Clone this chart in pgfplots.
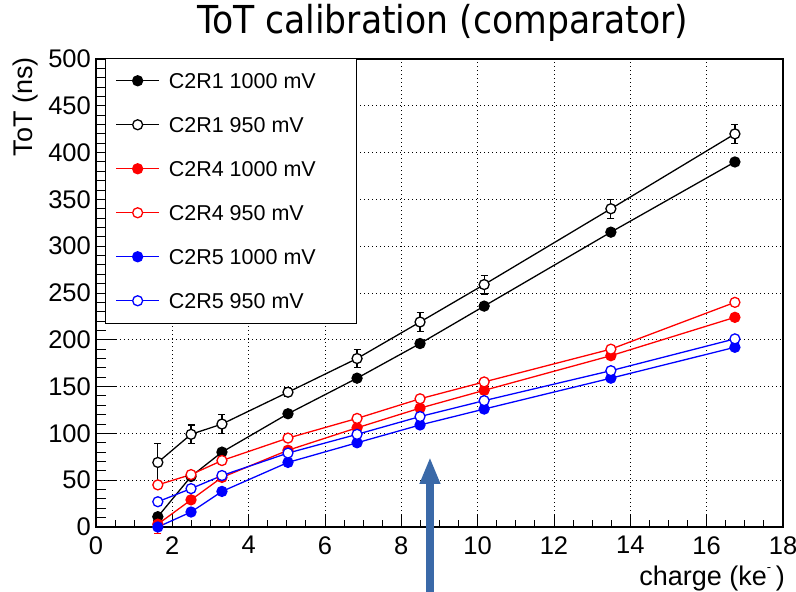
\documentclass[border=0pt]{standalone}
\usepackage{fontspec}
\setmainfont{Liberation Sans}
\newfontfamily\titlefont{DejaVu Sans Condensed}
\usepackage{pgfplots}
\pgfplotsset{compat=1.18}
\usetikzlibrary{arrows.meta}
\definecolor{arrowblue}{HTML}{3A69A8}

\pgfplotstableread{
x     y    e
1.62  11   0
2.49  54   0
3.30  80   0
5.03  121  0
6.84  159  0
8.49  196  0
10.17 236  0
13.49 315  0
16.74 390  0
}\ronek
\pgfplotstableread{
x     y    e
1.62  69   20
2.49  99   10
3.30  110  10
5.03  144  5
6.84  180  10
8.49  219  10
10.17 259  10
13.49 340  10
16.74 420  10
}\ronenn
\pgfplotstableread{
x     y    e
1.62  3    10
2.49  29   0
3.30  53   0
5.03  82   0
6.84  106  0
8.49  127  0
10.17 146  0
13.49 183  0
16.74 224  0
}\rfourk
\pgfplotstableread{
x     y
1.62  45
2.49  56
3.30  71
5.03  95
6.84  116
8.49  137
10.17 155
13.49 190
16.74 240
}\rfournn
\pgfplotstableread{
x     y
1.62  0
2.49  16
3.30  38
5.03  69
6.84  90
8.49  109
10.17 126
13.49 159
16.74 192
}\rfivek
\pgfplotstableread{
x     y
1.62  27
2.49  41
3.30  55
5.03  79
6.84  99
8.49  118
10.17 135
13.49 167
16.74 201
}\rfivenn

\begin{document}
\begin{tikzpicture}[x=1pt,y=1pt]
\useasboundingbox (0,0) rectangle (796,592);
\begin{axis}[
  at={(96pt,65pt)}, anchor=south west,
  scale only axis, width=687pt, height=468pt,
  xmin=0, xmax=18, ymin=0, ymax=500,
  xtick={0,2,...,18}, ytick={0,50,...,500},
  minor x tick num=3, minor y tick num=4,
  tick align=inside, tick pos=left,
  xtick style={/pgfplots/major tick length=13pt,/pgfplots/minor tick length=7pt, line width=1pt, black},
  ytick style={/pgfplots/major tick length=20pt,/pgfplots/minor tick length=10pt, line width=1pt, black},
  axis line style={line width=1.3pt},
  grid=major,
  major grid style={black, line width=0.9pt, dash pattern=on 1.2pt off 2.8pt},
  /pgf/number format/assume math mode=true,
  ticklabel style={font=\fontsize{25.5}{25.5}\selectfont, inner sep=0pt},
  yticklabel style={xshift=-5pt},
  xticklabel style={yshift=-9pt},
  clip=false,
  title={ToT calibration (comparator)},
  title style={font=\titlefont\fontsize{38.5}{38.5}\selectfont, at={(axis description cs:0.5051,1.0406)}, anchor=base, inner sep=0pt},
  ylabel={ToT (ns)},
  ylabel style={font=\fontsize{27}{27}\selectfont, at={(axis description cs:-0.1033,1.0043)}, anchor=east, inner sep=0pt},
  xlabel={charge (ke\raisebox{0.5em}{\fontsize{13}{13}\selectfont -}\,)},
  xlabel style={font=\fontsize{27}{27}\selectfont, at={(axis description cs:1.0029,-0.1240)}, anchor=base east, inner sep=0pt},
  legend style={at={(axis description cs:0.0131,1.0021)}, anchor=north west, draw=black, line width=1pt, fill=white,
    font=\fontsize{21.5}{21.5}\selectfont, inner xsep=10pt, inner ysep=14.5pt, row sep=28.5pt, column sep=9pt,
    nodes={inner sep=0pt, text height=15.5pt, text depth=0pt}, cells={anchor=west}},
  legend image code/.code={\draw[mark repeat=2,mark phase=2] plot coordinates {(0pt,0pt) (21.5pt,0pt) (43pt,0pt)};},
]
% error bars drawn first so that markers sit on top
\addplot[black, draw=none, mark=none, forget plot,
  error bars/.cd, y dir=both, y explicit, error bar style={line width=1.2pt, solid},
  error mark options={rotate=90, line width=1.2pt, mark size=3.5pt}] table[x=x,y=y,y error=e] {\ronenn};
\addplot[red, draw=none, mark=none, forget plot,
  error bars/.cd, y dir=both, y explicit, error bar style={line width=1.2pt, solid},
  error mark options={rotate=90, line width=1.2pt, mark size=3.5pt}] table[x=x,y=y,y error=e] {\rfourk};
\addplot[black, line width=1.3pt, mark=*, mark size=5pt] table[x=x,y=y] {\ronek};
\addlegendentry{\makebox[178pt][l]{C2R1 1000 mV}}
\addplot[black, line width=1.3pt, mark=*, mark size=5pt, mark options={fill=white, draw=black}] table[x=x,y=y] {\ronenn};
\addlegendentry{C2R1 950 mV}
\addplot[red, line width=1.3pt, mark=*, mark size=5pt] table[x=x,y=y] {\rfourk};
\addlegendentry{C2R4 1000 mV}
\addplot[red, line width=1.3pt, mark=*, mark size=5pt, mark options={fill=white, draw=red}] table[x=x,y=y] {\rfournn};
\addlegendentry{C2R4 950 mV}
\addplot[blue, line width=1.3pt, mark=*, mark size=5pt] table[x=x,y=y] {\rfivek};
\addlegendentry{C2R5 1000 mV}
\addplot[blue, line width=1.3pt, mark=*, mark size=5pt, mark options={fill=white, draw=blue}] table[x=x,y=y] {\rfivenn};
\addlegendentry{C2R5 950 mV}
\draw[arrowblue, line width=8pt, -{Triangle[width=19pt,length=27pt]}] (axis cs:8.75,-75) -- (axis cs:8.75,74.8);
\end{axis}
\end{tikzpicture}
\end{document}
